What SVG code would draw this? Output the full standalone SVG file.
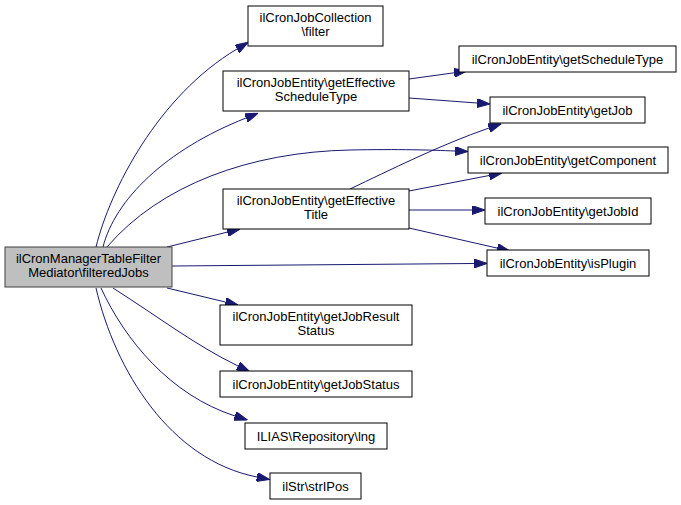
<svg xmlns="http://www.w3.org/2000/svg" width="681" height="505" viewBox="0 0 681 505">
<style>
.n rect{fill:#fff;stroke:#000;stroke-width:1}
.n.main rect{fill:#bfbfbf;stroke:#404040}
.n text{font-family:"Liberation Sans",Arial,sans-serif;font-size:13px;fill:#000;text-anchor:middle}
.e path{fill:none;stroke:#191970;stroke-width:1;marker-end:url(#ah)}
</style>
<defs>
<marker id="ah" viewBox="0 0 13 9" refX="0" refY="4.5" markerWidth="13" markerHeight="9" markerUnits="userSpaceOnUse" orient="auto">
<path d="M0,0 L13,4.5 L0,9 Z" fill="#191970" stroke="#191970" stroke-width="1"/>
</marker>
</defs>
<rect width="681" height="505" fill="#fff"/>
<g id="edges" class="e">
<path d="M96,247 C110,190 158,96 237,49"/>
<path d="M103,247 C115,200 165,150 246,118"/>
<path d="M107,247 C160,185 250,152 350,150 C400,149 430,150 455,151"/>
<path d="M167,247 L227.4,232.1"/>
<path d="M172,266 L474,263.5"/>
<path d="M167,288 L225.4,302"/>
<path d="M113,288 C160,318 195,345 238,366"/>
<path d="M101,288 C125,340 170,395 235,416"/>
<path d="M96,288 C115,370 170,460 257,477"/>
<path d="M409,79 L454.1,72.8"/>
<path d="M409,98 L477,103"/>
<path d="M350,189 C390,170 440,145 489,128"/>
<path d="M409,191 L489.2,175.5"/>
<path d="M409,210 L472,210"/>
<path d="M409,228 L497.3,248.1"/>
</g>
<g id="node-main" class="n main">
<rect x="5" y="247" width="167" height="40"/>
<text x="88.5" y="263">ilCronManagerTableFilter</text>
<text x="88.5" y="277">Mediator\filteredJobs</text>
</g>
<g id="node-filter" class="n">
<rect x="248" y="6" width="135" height="40"/>
<text x="315.5" y="22">ilCronJobCollection</text>
<text x="315.5" y="36">\filter</text>
</g>
<g id="node-effSched" class="n">
<rect x="223" y="71" width="186" height="40"/>
<text x="316" y="87">ilCronJobEntity\getEffective</text>
<text x="316" y="101">ScheduleType</text>
</g>
<g id="node-effTitle" class="n">
<rect x="223" y="189" width="186" height="40"/>
<text x="316" y="205">ilCronJobEntity\getEffective</text>
<text x="316" y="219">Title</text>
</g>
<g id="node-schedType" class="n">
<rect x="459" y="46" width="217" height="26"/>
<text x="567.5" y="63.5">ilCronJobEntity\getScheduleType</text>
</g>
<g id="node-getJob" class="n">
<rect x="490" y="97" width="155" height="26"/>
<text x="567.5" y="114.5">ilCronJobEntity\getJob</text>
</g>
<g id="node-getComponent" class="n">
<rect x="468" y="147" width="200" height="26"/>
<text x="568" y="164.5">ilCronJobEntity\getComponent</text>
</g>
<g id="node-getJobId" class="n">
<rect x="485" y="198" width="166" height="26"/>
<text x="568" y="215.5">ilCronJobEntity\getJobId</text>
</g>
<g id="node-isPlugin" class="n">
<rect x="487" y="250" width="162" height="26"/>
<text x="568" y="267.5">ilCronJobEntity\isPlugin</text>
</g>
<g id="node-resultStatus" class="n">
<rect x="220" y="305" width="192" height="40"/>
<text x="316" y="321">ilCronJobEntity\getJobResult</text>
<text x="316" y="335">Status</text>
</g>
<g id="node-jobStatus" class="n">
<rect x="220" y="371" width="192" height="26"/>
<text x="316" y="388.5">ilCronJobEntity\getJobStatus</text>
</g>
<g id="node-lng" class="n">
<rect x="245" y="423" width="142" height="26"/>
<text x="316" y="440.5">ILIAS\Repository\lng</text>
</g>
<g id="node-strIPos" class="n">
<rect x="270" y="473" width="91" height="26"/>
<text x="315.5" y="490.5">ilStr\strIPos</text>
</g>
</svg>
